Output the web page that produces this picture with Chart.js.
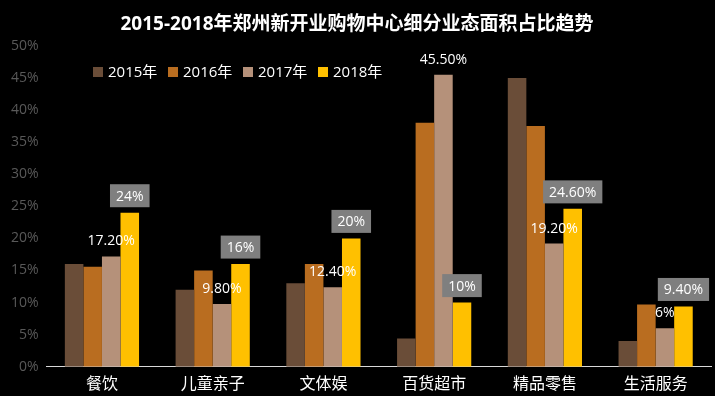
<!DOCTYPE html>
<html>
<head>
<meta charset="utf-8">
<script src="https://cdn.jsdelivr.net/npm/chart.js@4/dist/chart.umd.min.js"></script>
<style>
  html, body { margin: 0; padding: 0; background: #000; }
  #wrap { width: 715px; height: 396px; }
</style>
</head>
<body>
<div id="wrap"><canvas id="mychart" width="715" height="396"></canvas></div>
<script>
// data
var categories = ['餐饮', '儿童亲子', '文体娱', '百货超市', '精品零售', '生活服务'];
var years = ['2015年', '2016年', '2017年', '2018年'];
var v2015 = [16, 12, 13, 4.4, 45, 4];
var v2016 = [15.6, 15, 16, 38, 37.5, 9.7];
var v2017 = [17.2, 9.8, 12.4, 45.5, 19.2, 6];
var v2018 = [24, 16, 20, 10, 24.6, 9.4];
var colors = ['#6a4d38', '#b96d20', '#b5917a', '#ffc000'];
var labelText2017 = ['17.20%', '9.80%', '12.40%', '45.50%', '19.20%', '6%'];
var labelText2018 = ['24%', '16%', '20%', '10%', '24.60%', '9.40%'];

var FONT = '"Open Sans", "Noto Sans CJK SC", sans-serif';

// value labels (2017 plain, 2018 in a grey box) and the legend inside the plot
var labelPlugin = {
    id: 'labels',
    afterDatasetsDraw: function (chart) {
        var ctx = chart.ctx;
        ctx.save();
        ctx.font = '14px ' + FONT;
        ctx.textAlign = 'center';
        ctx.textBaseline = 'middle';

        var m17 = chart.getDatasetMeta(2);
        m17.data.forEach(function (bar, i) {
            ctx.fillStyle = '#ffffff';
            ctx.fillText(labelText2017[i], bar.x, bar.y - 15);
        });

        var m18 = chart.getDatasetMeta(3);
        m18.data.forEach(function (bar, i) {
            var t = labelText2018[i];
            var w = ctx.measureText(t).width + 12;
            var cy = bar.y - 17;
            ctx.fillStyle = '#7f7f7f';
            ctx.fillRect(bar.x - w / 2, cy - 11.5, w, 23);
            ctx.fillStyle = '#ffffff';
            ctx.fillText(t, bar.x, cy + 1);
        });

        // legend
        ctx.font = '15px ' + FONT;
        ctx.textAlign = 'left';
        var lx = 93, ly = 72;
        years.forEach(function (y, k) {
            ctx.fillStyle = colors[k];
            ctx.fillRect(lx, ly - 5, 10, 10);
            ctx.fillStyle = '#ffffff';
            ctx.fillText(y, lx + 15, ly + 1);
            lx += 75;
        });
        ctx.restore();
    }
};

var datasets = [v2015, v2016, v2017, v2018].map(function (vals, k) {
    return {
        label: years[k],
        data: vals,
        backgroundColor: colors[k],
        borderWidth: 0
    };
});

var ctx = document.getElementById('mychart');
var chart = new Chart(ctx, {
    type: 'bar',
    data: { labels: categories, datasets: datasets },
    options: {
        responsive: false,
        animation: false,
        layout: { padding: { left: 3, right: 4, top: 0, bottom: -6 } },
        datasets: { bar: { categoryPercentage: 0.67, barPercentage: 1.0 } },
        plugins: {
            legend: { display: false },
            tooltip: { enabled: false },
            title: {
                display: true,
                text: '2015-2018年郑州新开业购物中心细分业态面积占比趋势',
                color: '#ffffff',
                font: { family: FONT, size: 19, weight: 'bold' },
                padding: { top: 13, bottom: 10 }
            }
        },
        scales: {
            x: {
                grid: { display: false, drawTicks: false },
                border: { color: '#d9d9d9', width: 1 },
                ticks: { color: '#ffffff', font: { family: FONT, size: 16 }, padding: 8 }
            },
            y: {
                min: 0,
                max: 50,
                grid: { display: false, drawTicks: false },
                border: { display: false },
                ticks: {
                    stepSize: 5,
                    color: '#595959',
                    font: { family: FONT, size: 14 },
                    padding: 8,
                    callback: function (v) { return v + '%'; }
                }
            }
        }
    },
    plugins: [labelPlugin]
});
</script>
</body>
</html>
